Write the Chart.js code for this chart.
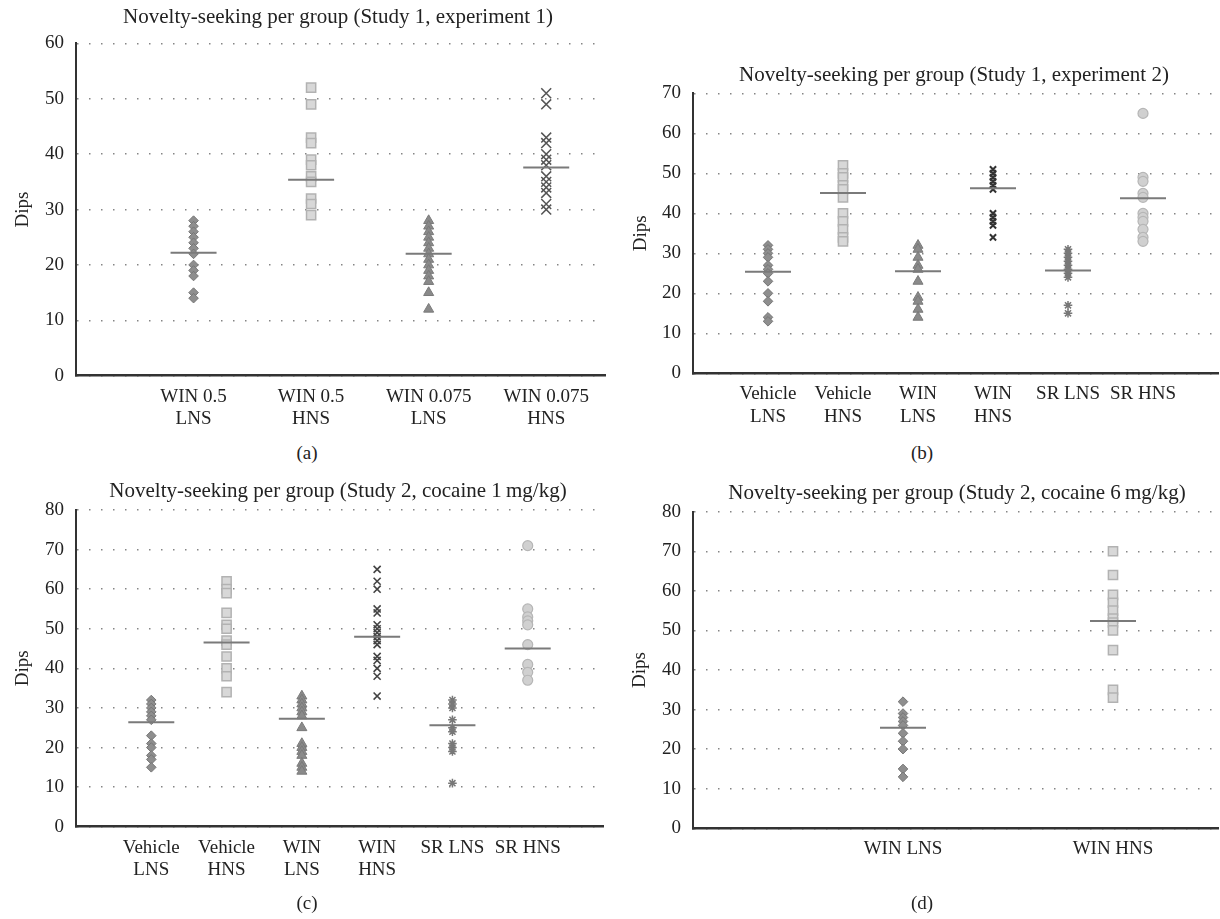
<!DOCTYPE html>
<html>
<head>
<meta charset="utf-8">
<script src="https://cdn.jsdelivr.net/npm/chart.js@4.4.1/dist/chart.umd.min.js"></script>
<style>
    body { margin: 0; background: #fff; }
    #page { position: relative; width: 1220px; height: 919px; overflow: hidden; font-family: "Liberation Serif", "Times New Roman", serif; color: #222; }
    canvas { position: absolute; }
    .title { position: absolute; width: 600px; text-align: center; font-size: 21px; line-height: 21px; white-space: nowrap; }
    .sub { position: absolute; width: 100px; text-align: center; font-size: 19px; line-height: 20px; }
</style>
</head>
<body>
<div id="page">
    <canvas id="chartA" width="610" height="420" style="left:0;top:20px"></canvas>
    <canvas id="chartB" width="608" height="370" style="left:612px;top:70px"></canvas>
    <canvas id="chartC" width="610" height="430" style="left:0;top:470px"></canvas>
    <canvas id="chartD" width="608" height="430" style="left:612px;top:470px"></canvas>

    <div class="title" style="left:38px;top:6px">Novelty-seeking per group (Study 1, experiment 1)</div>
    <div class="title" style="left:654px;top:64px">Novelty-seeking per group (Study 1, experiment 2)</div>
    <div class="title" style="left:38px;top:480px">Novelty-seeking per group (Study 2, cocaine 1&#8201;mg/kg)</div>
    <div class="title" style="left:657px;top:482px">Novelty-seeking per group (Study 2, cocaine 6&#8201;mg/kg)</div>

    <div class="sub" style="left:257px;top:443px">(a)</div>
    <div class="sub" style="left:872px;top:443px">(b)</div>
    <div class="sub" style="left:257px;top:893px">(c)</div>
    <div class="sub" style="left:872px;top:893px">(d)</div>
</div>

<script>
const fontFamily = '"Liberation Serif", "Times New Roman", serif'

// (a) Study 1, experiment 1
const catsA = [['WIN 0.5', 'LNS'], ['WIN 0.5', 'HNS'], ['WIN 0.075', 'LNS'], ['WIN 0.075', 'HNS']]
const win05Lns = [28, 27, 26, 25, 24, 23, 22, 20, 19, 18, 15, 14]
const win05Hns = [52, 49, 43, 42, 39, 38, 36, 35, 32, 31, 29]
const win0075Lns = [28, 27, 26, 25, 24, 23, 22, 21, 20, 19, 18, 17, 15, 12]
const win0075Hns = [51, 49, 43, 42, 40, 39, 38, 36, 35, 34, 33, 31, 30]
const meansA = [22.2, 35.4, 22.0, 37.6]

// (b) Study 1, experiment 2
const catsB = [['Vehicle', 'LNS'], ['Vehicle', 'HNS'], ['WIN', 'LNS'], ['WIN', 'HNS'], 'SR LNS', 'SR HNS']
const vehLnsB = [32, 31, 30, 29, 27, 26, 25, 23, 20, 18, 14, 13]
const vehHnsB = [52, 50, 49, 47, 46, 44, 40, 38, 36, 34, 33]
const winLnsB = [32, 31, 29, 27, 26, 23, 19, 18, 16, 14]
const winHnsB = [51, 50, 49, 48, 47, 46, 40, 39, 38, 37, 34]
const srLnsB = [31, 30, 29, 28, 27, 26, 25, 24, 17, 15]
const srHnsB = [65, 49, 48, 45, 44, 40, 39, 38, 36, 34, 33]
const meansB = [25.4, 45.1, 25.5, 46.3, 25.7, 43.8]

// (c) Study 2, cocaine 1 mg/kg
const catsC = [['Vehicle', 'LNS'], ['Vehicle', 'HNS'], ['WIN', 'LNS'], ['WIN', 'HNS'], 'SR LNS', 'SR HNS']
const vehLnsC = [32, 31, 30, 29, 28, 27, 23, 21, 20, 18, 17, 15]
const vehHnsC = [62, 60, 59, 54, 51, 50, 47, 46, 43, 40, 38, 34]
const winLnsC = [33, 32, 31, 30, 29, 28, 25, 21, 20, 19, 18, 16, 15, 14]
const winHnsC = [65, 62, 60, 55, 54, 51, 50, 49, 48, 47, 46, 43, 42, 40, 38, 33]
const srLnsC = [32, 31, 30, 27, 25, 24, 21, 20, 19, 11]
const srHnsC = [71, 55, 53, 52, 51, 46, 41, 39, 37]
const meansC = [26.4, 46.5, 27.3, 48.0, 25.6, 45.0]

// (d) Study 2, cocaine 6 mg/kg
const catsD = ['WIN LNS', 'WIN HNS']
const winLnsD = [32, 29, 28, 27, 26, 24, 22, 20, 15, 13]
const winHnsD = [70, 64, 59, 57, 55, 53, 52, 50, 45, 35, 33]
const meansD = [25.4, 52.4]


const markers = {
    diamond: { pointStyle: 'rectRot', radius: 4.8, bg: '#8e8e8e', border: '#767676', bw: 1 },
    square: { pointStyle: 'rect', radius: 6.5, bg: '#d8d8d8', border: '#b2b2b2', bw: 1.5 },
    triangle: { pointStyle: 'triangle', radius: 5.8, bg: '#8a8a8a', border: '#7a7a7a', bw: 1 },
    crossBig: { pointStyle: 'crossRot', radius: 7, bg: '#555', border: '#555', bw: 1.5 },
    crossSmall: { pointStyle: 'crossRot', radius: 4.4, bg: '#333', border: '#333', bw: 2 },
    cross: { pointStyle: 'crossRot', radius: 5, bg: '#444', border: '#444', bw: 1.6 },
    star: { pointStyle: 'star', radius: 4.3, bg: '#787878', border: '#787878', bw: 1.5 },
    circle: { pointStyle: 'circle', radius: 5, bg: '#d0d0d0', border: '#b6b6b6', bw: 1.2 }
}


function groupDataset(values, xPos, style) {
    return {
        data: values.map(v => ({ x: xPos, y: v })),
        pointStyle: style.pointStyle,
        pointRadius: style.radius,
        backgroundColor: style.bg,
        borderColor: style.border,
        borderWidth: style.bw,
        showLine: false
    }
}


// group means are drawn as short horizontal bars
function meanDataset(means) {
    return {
        data: means.map((m, i) => ({ x: i + 1, y: m })),
        pointStyle: 'line',
        pointRadius: 23,
        borderColor: '#7a7a7a',
        borderWidth: 2,
        order: -1
    }
}


function renderPanel(id, groups, means, labels, box) {
    const datasets = [meanDataset(means)]
    groups.forEach((g, i) => datasets.push(groupDataset(g[0], i + 1, g[1])))

    new Chart(document.getElementById(id), {
        type: 'scatter',
        data: { datasets: datasets },
        options: {
            responsive: false,
            animation: false,
            devicePixelRatio: 1,
            events: [],
            layout: {
                autoPadding: false,
                padding: { left: 0, top: box.padTop, right: box.padRight, bottom: 0 }
            },
            plugins: { legend: { display: false }, tooltip: { enabled: false } },
            scales: {
                x: {
                    type: 'linear',
                    min: 0,
                    max: box.xMax,
                    afterBuildTicks: (axis) => { axis.ticks = labels.map((l, i) => ({ value: i + 1 })) },
                    afterFit: (axis) => { axis.height = box.xHeight },
                    grid: { display: false, drawTicks: false },
                    border: { display: true, color: '#333', width: 2.5 },
                    ticks: {
                        autoSkip: false,
                        maxRotation: 0,
                        padding: 10,
                        color: '#222',
                        font: { family: fontFamily, size: 19, lineHeight: 1.17 },
                        callback: (v, i) => labels[i]
                    }
                },
                y: {
                    min: 0,
                    max: box.yMax,
                    afterFit: (axis) => { axis.width = box.yWidth },
                    grid: { color: '#858585', lineWidth: 1.5, drawTicks: false },
                    border: { display: true, color: '#333', width: 2, dash: [1.5, 10.5] },
                    ticks: {
                        stepSize: 10,
                        padding: 12,
                        color: '#222',
                        font: { family: fontFamily, size: 19 }
                    },
                    title: {
                        display: true,
                        text: 'Dips',
                        color: '#222',
                        padding: { top: box.titlePad, bottom: 0 },
                        font: { family: fontFamily, size: 19 }
                    }
                }
            }
        }
    })
}


renderPanel('chartA', [
    [win05Lns, markers.diamond],
    [win05Hns, markers.square],
    [win0075Lns, markers.triangle],
    [win0075Hns, markers.crossBig]
], meansA, catsA, { padTop: 21.7, padRight: 5, yWidth: 76, xHeight: 64.3, xMax: 4.5, yMax: 60, titlePad: 11.6 })

renderPanel('chartB', [
    [vehLnsB, markers.diamond],
    [vehHnsB, markers.square],
    [winLnsB, markers.triangle],
    [winHnsB, markers.crossSmall],
    [srLnsB, markers.star],
    [srHnsB, markers.circle]
], meansB, catsB, { padTop: 23.3, padRight: 2, yWidth: 81, xHeight: 66.7, xMax: 7, yMax: 70, titlePad: 17.6 })

renderPanel('chartC', [
    [vehLnsC, markers.diamond],
    [vehHnsC, markers.square],
    [winLnsC, markers.triangle],
    [winHnsC, markers.cross],
    [srLnsC, markers.star],
    [srHnsC, markers.circle]
], meansC, catsC, { padTop: 40, padRight: 7, yWidth: 76, xHeight: 73.3, xMax: 7, yMax: 80, titlePad: 11.6 })

renderPanel('chartD', [
    [winLnsD, markers.diamond],
    [winHnsD, markers.square]
], meansD, catsD, { padTop: 41.7, padRight: 2, yWidth: 81, xHeight: 71.7, xMax: 2.5, yMax: 80, titlePad: 16.6 })
</script>
</body>
</html>
